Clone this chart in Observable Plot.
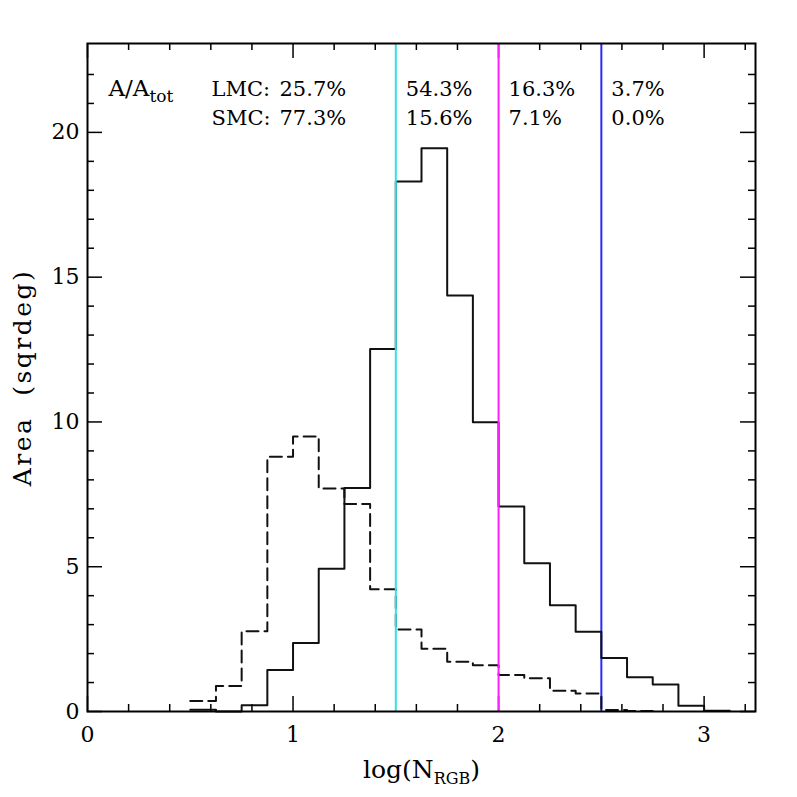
<!DOCTYPE html>
<html><head><meta charset="utf-8">
<script src="https://cdn.jsdelivr.net/npm/d3@7"></script>
<script src="https://cdn.jsdelivr.net/npm/@observablehq/plot@0.6"></script>
<style>body{margin:0;background:#fff}</style>
</head><body><div id="chart"></div>
<script>
// Histogram bin edges (log N_RGB)
const binEdges = [0.5,0.625,0.75,0.875,1.0,1.125,1.25,1.375,1.5,1.625,1.75,1.875,2.0,2.125,2.25,2.375,2.5,2.625,2.75,2.875,3.0,3.125];
// Area (sqrdeg) per bin
const lmcArea = [0.06,0.0,0.22,1.43,2.37,4.93,7.72,12.52,18.3,19.45,14.37,9.99,7.08,5.12,3.67,2.75,1.85,1.18,0.93,0.2,0.03];
const smcArea = [0.36,0.88,2.77,8.8,9.5,7.7,7.17,4.22,2.83,2.17,1.72,1.6,1.26,1.15,0.72,0.62,0.05,0.02];
// Boundaries
const splits = [1.5, 2.0, 2.5];
const splitColors = ["#2fe3e3", "#ff1eff", "#2a2aff"];
// Annotation text
const rowNames = ["LMC:", "SMC:"];
const lmcShare = ["25.7%", "54.3%", "16.3%", "3.7%"];
const smcShare = ["77.3%", "15.6%", "7.1%", "0.0%"];
// Ticks
const xMajor = [0, 1, 2, 3];
const xMinor = [0.2,0.4,0.6,0.8,1.2,1.4,1.6,1.8,2.2,2.4,2.6,2.8,3.2];
const yMajor = [0, 5, 10, 15, 20];
const yMinor = [1,2,3,4,6,7,8,9,11,12,13,14,16,17,18,19,21,22];

const W = 797, H = 797, mL = 87, mR = 42, mT = 43, mB = 86;
const fw = W - mL - mR, fh = H - mT - mB;
const minorLen = 7, majorLen = 15;

function steps(values) {
  const pts = values.map((v, i) => ({x: binEdges[i], y: v}));
  pts.push({x: binEdges[values.length], y: values[values.length - 1]});
  return pts;
}

const rowDy = [45.5, 74.5];
const textMarks = [];
rowNames.forEach((name, r) => {
  const shares = r === 0 ? lmcShare : smcShare;
  textMarks.push(Plot.text([name], {frameAnchor: "top-left", dx: 124, dy: rowDy[r], textAnchor: "start", lineAnchor: "middle", fontSize: 21}));
  textMarks.push(Plot.text([shares[0]], {frameAnchor: "top-left", dx: 192, dy: rowDy[r], textAnchor: "start", lineAnchor: "middle", fontSize: 21}));
  textMarks.push(Plot.text(splits, {x: d => d, text: (d, i) => shares[i + 1], frameAnchor: "top", dx: 10, dy: rowDy[r], textAnchor: "start", lineAnchor: "middle", fontSize: 21}));
});

const tickStyle = {stroke: "black", strokeWidth: 1.5};

const plot = Plot.plot({
  width: W,
  height: H,
  marginLeft: mL, marginRight: mR, marginTop: mT, marginBottom: mB,
  style: {fontFamily: "DejaVu Serif", fontSize: "21px", background: "white", color: "black"},
  x: {domain: [0, 3.25]},
  y: {domain: [0, 23.07]},
  marks: [
    // inward ticks on all four sides
    Plot.tickX(xMinor, {x: d => d, insetTop: fh - minorLen, ...tickStyle}),
    Plot.tickX(xMinor, {x: d => d, insetBottom: fh - minorLen, ...tickStyle}),
    Plot.tickX(xMajor, {x: d => d, insetTop: fh - majorLen, ...tickStyle}),
    Plot.tickX(xMajor, {x: d => d, insetBottom: fh - majorLen, ...tickStyle}),
    Plot.tickY(yMinor, {y: d => d, insetRight: fw - minorLen, ...tickStyle}),
    Plot.tickY(yMinor, {y: d => d, insetLeft: fw - minorLen, ...tickStyle}),
    Plot.tickY(yMajor, {y: d => d, insetRight: fw - majorLen, ...tickStyle}),
    Plot.tickY(yMajor, {y: d => d, insetLeft: fw - majorLen, ...tickStyle}),
    Plot.ruleX([splits[2]], {x: d => d, stroke: splitColors[2], strokeWidth: 2}),
    Plot.line(steps(smcArea), {x: "x", y: "y", curve: "step-after", stroke: "#111", strokeWidth: 2, strokeDasharray: "12,6"}),
    Plot.line(steps(lmcArea), {x: "x", y: "y", curve: "step-after", stroke: "#111", strokeWidth: 2}),
    Plot.ruleX(splits.slice(0, 2), {x: d => d, stroke: (d, i) => splitColors[i], strokeWidth: 2}),
    Plot.axisX(xMajor, {anchor: "bottom", tickSize: 0, tickPadding: 15, label: null, fontSize: 22, tickFormat: d => String(d)}),
    Plot.axisY(yMajor, {anchor: "left", tickSize: 0, tickPadding: 8, label: null, fontSize: 22, tickFormat: d => String(d)}),
    Plot.frame({stroke: "black", strokeWidth: 2}),
    Plot.text(["log(NRGB)"], {frameAnchor: "bottom", dy: 58, textAnchor: "middle", lineAnchor: "middle", fontSize: 25}),
    Plot.text(["Area  (sqrdeg)"], {frameAnchor: "left", dx: -65, rotate: -90, textAnchor: "middle", lineAnchor: "middle", fontSize: 25}),
    Plot.text(["A/Atot"], {frameAnchor: "top-left", dx: 21, dy: 45.5, textAnchor: "start", lineAnchor: "middle", fontSize: 23}),
    ...textMarks
  ]
});

// subscripts and spacing
const svg = d3.select(plot);
const byText = s => svg.selectAll("text").filter(function() { return this.textContent === s; });
const xl = byText("log(NRGB)");
xl.text(null);
xl.append("tspan").text("log(N");
xl.append("tspan").attr("font-size", 16).attr("dy", 6).text("RGB");
xl.append("tspan").attr("dy", -6).text(")");
const aa = byText("A/Atot");
aa.text(null);
aa.append("tspan").text("A/A");
aa.append("tspan").attr("font-size", 17).attr("dy", 6).text("tot");
byText("Area  (sqrdeg)").attr("xml:space", "preserve").style("white-space", "pre").attr("letter-spacing", 2.5);

document.getElementById("chart").appendChild(plot);
</script>
</body></html>
